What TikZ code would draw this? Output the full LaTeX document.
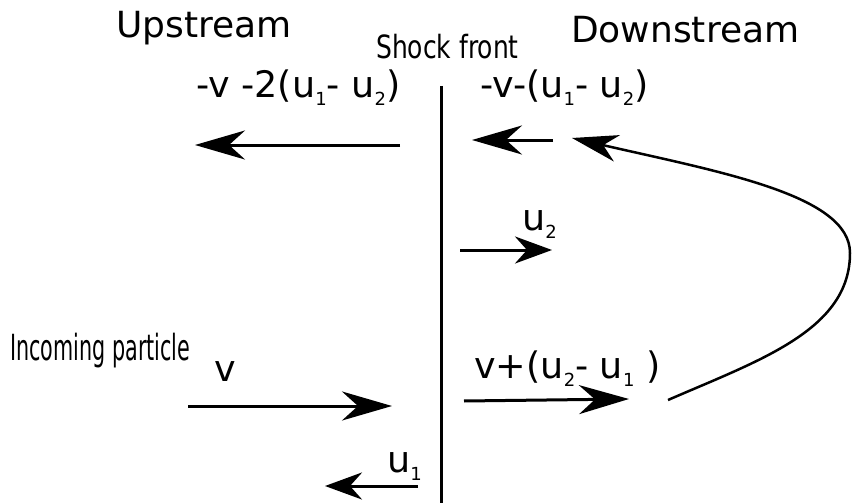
\documentclass[tikz,border=0pt]{standalone}
\usepackage{fontspec}
\setmainfont{DejaVu Sans}
\usetikzlibrary{arrows.meta}
\newcommand\sbs[1]{\raisebox{-0.22em}{\fontsize{18pt}{18pt}\selectfont #1}}
\tikzset{
  lbl/.style={anchor=base west, inner sep=0pt, font=\fontsize{36.5pt}{40pt}\selectfont},
  head/.style={anchor=base west, inner sep=0pt, font=\fontsize{36pt}{40pt}\selectfont},
  narrow/.style={anchor=base west, inner sep=0pt},
  bigarrow/.style={line width=3pt, -{Stealth[length=50pt, width=29pt, inset=16pt]}},
  smallarrow/.style={line width=3pt, -{Stealth[length=37pt, width=27pt, inset=12pt]}},
  front/.style={line width=3pt}
}
\begin{document}
\begin{tikzpicture}[x=1pt, y=-1pt]
\useasboundingbox (0,0) rectangle (852,503);
% headings
\node[head] (up) at (116,38) {Upstream};
\node[head] (down) at (571,43) {Downstream};
\node[narrow] (shock) at (376,59) {\scalebox{0.78}[1]{\fontsize{32pt}{34pt}\selectfont Shock front}};
\node[narrow] (inc) at (10,360) {\scalebox{0.575}[1]{\fontsize{36pt}{40pt}\selectfont Incoming particle}};
% labels
\node[lbl] (l1) at (196,97) {-v -2(u\sbs{1}- u\sbs{2})};
\node[lbl] (l2) at (480,97) {-v-(u\sbs{1}- u\sbs{2})};
\node[lbl] (l3) at (522,230) {u\sbs{2}};
\node[lbl] (l4) at (214,381) {v};
\node[lbl] (l5) at (474,378) {v+(u\sbs{2}- u\sbs{1} )};
\node[lbl] (l6) at (387,472) {u\sbs{1}};
% shock front line
\coordinate (ftop) at (441,86);
\coordinate (fbot) at (441,503);
\draw[front] (ftop) -- (fbot);
% arrows
\coordinate (a1s) at (400,145); \coordinate (a1e) at (195,145);
\coordinate (a2s) at (553,140); \coordinate (a2e) at (472,140);
\coordinate (a3s) at (460,250); \coordinate (a3e) at (552,250);
\coordinate (a4s) at (188,406); \coordinate (a4e) at (392,406);
\coordinate (a5s) at (464,401); \coordinate (a5e) at (629,399);
\coordinate (a6s) at (418,486); \coordinate (a6e) at (325,486);
\coordinate (cs) at (668,400); \coordinate (cm) at (850,253); \coordinate (ce) at (572,138);
\draw[bigarrow] (a1s) -- (a1e);
\draw[bigarrow] (a2s) -- (a2e);
\draw[smallarrow] (a3s) -- (a3e);
\draw[bigarrow] (a4s) -- (a4e);
\draw[bigarrow] (a5s) -- (a5e);
\draw[smallarrow] (a6s) -- (a6e);
\draw[line width=2.5pt] (cs) .. controls (760,360) and (850,330) .. (cm);
\draw[line width=2.5pt, -{Stealth[length=46pt, width=27pt, inset=14pt]}] (cm) .. controls (850,195) and (720,172) .. (ce);
\end{tikzpicture}
\end{document}
